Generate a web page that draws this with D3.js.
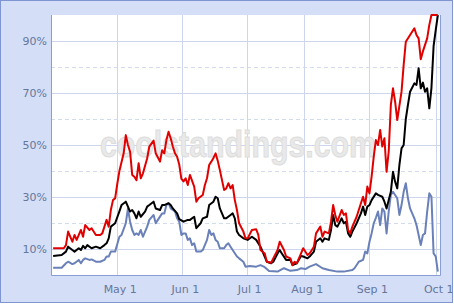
<!DOCTYPE html>
<html>
<head>
<meta charset="utf-8">
<script src="https://cdn.jsdelivr.net/npm/d3@7"></script>
<style>
    html, body { margin: 0; padding: 0; background: #ffffff; }
    svg { display: block; }
    .tick-label { font-family: 'DejaVu Sans', Verdana, sans-serif; font-size: 11px; fill: #66769c; }
    .watermark { font-family: 'Liberation Sans', Arial, sans-serif; font-weight: bold; font-size: 37px; }
</style>
</head>
<body>
<div id="chart"></div>
<script>
/**
 * Playoff odds chart - three series of daily percentages over a season.
 * x is a season-day index (All-Star break days left out), y is percent.
 */

// Axis ticks
const tickDays = [31, 61.5, 91.5, 118.5, 149, 180];
const tickLabels = ['May 1', 'Jun 1', 'Jul 1', 'Aug 1', 'Sep 1', 'Oct 1'];
const yMajorTicks = [10, 30, 50, 70, 90];
const yMinorTicks = [20, 40, 60, 80];

// Red series
const redDays = [1, 6, 7, 8, 10, 11, 12, 14, 15, 16, 18, 19, 21, 23, 24, 25, 26, 27, 28, 29,
    30, 31, 32, 34, 35, 36, 37, 38, 39, 40, 41, 42, 43, 45, 46, 48, 49, 51, 52, 53,
    54, 55, 56, 57, 58, 59, 60, 61, 62, 63, 64, 65, 67, 68, 69, 71, 72, 73, 74, 75,
    76, 77, 78, 79, 80, 81, 82, 83, 84, 85, 86, 87, 88, 90, 91, 92, 94, 96, 97, 98,
    100, 101, 103, 104, 106, 107, 109, 110, 112, 113, 114, 115, 117, 118, 120, 121, 123, 124, 126, 127,
    128, 130, 131, 132, 133, 134, 136, 137, 138, 139, 140, 141, 143, 145, 146, 147, 148, 149, 150, 151,
    152, 153, 154, 155, 156, 157, 158, 159, 160, 161, 162, 164, 165, 166, 168, 170, 171, 172, 173, 174,
    176, 177, 178, 181];
const redPct = [10.3, 10.3, 11.5, 16.7, 12.8, 15.4, 13.5, 17.3, 14.7, 19.2, 17.3, 18, 15.4, 15.4, 16, 18.6, 21.2, 18.6, 25, 28.8,
    29.5, 35, 40, 46.8, 53.8, 50, 47.4, 38.5, 37.8, 36.5, 43, 37.2, 39, 44.9, 49.4, 51.7, 46.8, 43.6, 48, 46.8,
    51.9, 55.1, 52.6, 49.4, 46.8, 45.5, 42.5, 37, 36, 37.2, 34.6, 38.5, 34, 28.2, 29.5, 30.8, 34.6, 37.2, 42.3, 43.6,
    45, 46.8, 44, 40.4, 36.5, 32.7, 33.3, 35.3, 33.3, 34.6, 28.8, 25, 19.9, 16.7, 14.1, 14.1, 17.3, 17.6, 15.4, 9.6,
    8.3, 5.1, 4.7, 6.4, 9.6, 12.8, 9.6, 7.1, 6.4, 3.8, 5.1, 4.5, 8.3, 10.3, 7.7, 8.3, 10.9, 16, 18.6, 14.7,
    16.7, 16, 20.5, 26.9, 23.1, 20.5, 25, 23.1, 23.7, 17.3, 16, 18.6, 22.4, 27.6, 30.1, 26.9, 34, 31.4, 37.8, 45.5,
    51.9, 50, 55.8, 49.4, 52.6, 39.7, 47.4, 65.4, 71.8, 66.7, 59.6, 70.5, 80.8, 89.7, 92.3, 94.9, 92.3, 91, 83, 86,
    91, 96.2, 100, 100];

// Black series
const blackDays = [1, 5, 7, 8, 10, 11, 13, 14, 15, 16, 17, 19, 21, 23, 25, 26, 27, 28, 30, 32,
    33, 35, 37, 38, 39, 40, 41, 42, 44, 45, 46, 48, 49, 51, 52, 53, 55, 56, 57, 59,
    60, 62, 64, 65, 67, 68, 70, 71, 73, 74, 76, 77, 78, 79, 81, 82, 84, 85, 86, 87,
    88, 90, 92, 94, 96, 98, 99, 101, 103, 104, 106, 107, 108, 110, 112, 113, 115, 117, 118, 120,
    121, 123, 124, 126, 127, 128, 130, 131, 132, 133, 134, 136, 137, 138, 139, 140, 141, 143, 145, 146,
    147, 148, 149, 150, 152, 153, 155, 156, 157, 159, 160, 161, 162, 163, 164, 165, 166, 167, 168, 170,
    171, 172, 173, 174, 175, 176, 177, 178, 179, 180, 181];
const blackPct = [7.3, 7.7, 9, 10.9, 9.6, 9, 10.3, 9.6, 11.2, 10.3, 11.5, 10.3, 10.9, 10.3, 11.5, 12.2, 14.1, 18.6, 19.9, 24.5,
    26.9, 28.2, 24.4, 25, 23.7, 21.8, 24.4, 22.4, 24.4, 26.3, 26.9, 28.2, 25.6, 25, 26.9, 26.9, 27.6, 26.9, 25.6, 23.7,
    21.5, 20.5, 21.2, 21.2, 22.4, 18, 19.9, 21.8, 22.4, 26.9, 28.2, 30.1, 29.5, 25.6, 21.8, 21.8, 23.1, 23.7, 21.8, 16.7,
    15.4, 14.1, 13.5, 14.7, 13.5, 10.9, 9, 5.1, 4.5, 5.1, 8.3, 9.6, 8.3, 5.8, 5.8, 3.8, 4.5, 7.3, 7.1, 6.4,
    7.1, 9, 12.8, 14.1, 12.8, 14.1, 13.5, 17.3, 23.1, 19.2, 18.6, 21.8, 19.9, 20.5, 16, 14.7, 16.7, 19.9, 23.7, 26.3,
    23.1, 26.3, 26.9, 28.8, 31.4, 30.8, 30.1, 28.2, 25.6, 32, 39.7, 35.9, 33.3, 42.3, 48.7, 50, 60, 65.4, 70.5, 73.7,
    73.1, 79.5, 71.8, 74, 70.5, 71.8, 64.1, 72, 88, 94.2, 100];

// Blue series
const blueDays = [1, 5, 7, 8, 10, 11, 13, 14, 15, 16, 18, 19, 21, 23, 25, 26, 27, 28, 30, 32,
    33, 35, 36, 37, 38, 39, 40, 41, 42, 43, 45, 46, 48, 49, 50, 52, 53, 54, 55, 56,
    58, 59, 60, 61, 62, 63, 64, 65, 66, 67, 68, 70, 71, 73, 74, 75, 76, 77, 78, 79,
    81, 82, 83, 84, 85, 87, 88, 90, 91, 93, 96, 98, 100, 102, 106, 109, 112, 115, 117, 119,
    121, 124, 127, 130, 134, 137, 141, 142, 144, 146, 147, 148, 149, 150, 151, 152, 153, 154, 155, 156,
    157, 158, 159, 160, 162, 163, 164, 165, 166, 167, 168, 170, 171, 172, 173, 174, 175, 176, 177, 178,
    179, 180, 181];
const bluePct = [2.8, 2.8, 4.5, 5.1, 4.2, 4.5, 5.8, 4.5, 5.8, 6.4, 5.8, 6, 5.1, 5.1, 5.8, 7.1, 7.1, 9, 9, 14.7,
    15.4, 19.9, 25.6, 20.5, 17.3, 15.4, 16, 15.4, 17.3, 14.7, 18.6, 21.2, 23.1, 19.9, 21.2, 23.7, 23.7, 26.9, 27.6, 25.6,
    24.4, 21.8, 20.5, 15.4, 16, 16, 13.5, 14.1, 11.5, 12.2, 9, 9, 9.6, 13.5, 17.3, 15.4, 16, 13.5, 12.8, 10.3,
    10.3, 11.5, 12.2, 10.9, 9.6, 7.1, 6.4, 5.1, 3.2, 3.5, 3.2, 3.8, 3, 1.5, 1.3, 2.6, 1.6, 1.9, 2.6, 2.3,
    3.2, 4.2, 2.6, 1.9, 1.3, 1.3, 1.9, 2.6, 5.1, 5.8, 9, 8.3, 12.8, 16, 19.9, 22, 24.4, 19.2, 25.6, 24.4,
    16, 24.4, 30.8, 32, 29.5, 23.1, 26.9, 32, 35.3, 29.5, 25.6, 21.8, 19.2, 15.4, 11.5, 15.4, 16, 24.4, 31.4, 30.1,
    8.3, 7.1, 1.3];

const seriesList = [
    { name: 'blue', days: blueDays, pct: bluePct, color: '#6a80b8' },
    { name: 'black', days: blackDays, pct: blackPct, color: '#000000' },
    { name: 'red', days: redDays, pct: redPct, color: '#e00000' }
];

/**
 * Render the chart into #chart.
 */
function renderChart() {
    const width = 454;
    const height = 304;
    const plot = { left: 51, right: 440, top: 15, bottom: 275 };

    const svg = d3.select('#chart')
        .append('svg')
        .attr('width', width)
        .attr('height', height);

    // Frame background
    svg.append('rect')
        .attr('x', 0.5).attr('y', 0.5)
        .attr('width', width - 2).attr('height', height - 2)
        .attr('fill', '#d4def6')
        .attr('stroke', '#7f95d2');

    svg.append('rect')
        .attr('x', plot.left).attr('y', plot.top)
        .attr('width', plot.right - plot.left).attr('height', plot.bottom - plot.top)
        .attr('fill', '#ffffff');

    const x = d3.scaleLinear().domain([0, 182]).range([plot.left, plot.right]);
    const y = d3.scaleLinear().domain([0, 100]).range([plot.bottom, plot.top]);

    // Horizontal grid
    svg.append('g')
        .selectAll('line')
        .data(yMinorTicks)
        .join('line')
        .attr('x1', plot.left).attr('x2', plot.right)
        .attr('y1', d => Math.round(y(d)) + 0.5).attr('y2', d => Math.round(y(d)) + 0.5)
        .attr('stroke', '#d3dbee')
        .attr('stroke-dasharray', '4,3');

    svg.append('g')
        .selectAll('line')
        .data(yMajorTicks)
        .join('line')
        .attr('x1', plot.left).attr('x2', plot.right)
        .attr('y1', d => Math.round(y(d)) + 0.5).attr('y2', d => Math.round(y(d)) + 0.5)
        .attr('stroke', '#cdd6ec');

    // Vertical grid
    svg.append('g')
        .selectAll('line')
        .data(tickDays)
        .join('line')
        .attr('x1', d => Math.round(x(d)) + 0.5).attr('x2', d => Math.round(x(d)) + 0.5)
        .attr('y1', plot.top).attr('y2', plot.bottom)
        .attr('stroke', '#cdd6ec');

    // Watermark
    svg.append('text')
        .attr('class', 'watermark')
        .attr('x', 100)
        .attr('y', 157)
        .attr('textLength', 276)
        .attr('lengthAdjust', 'spacingAndGlyphs')
        .attr('fill', '#e9e9e9')
        .attr('stroke', '#dcdcdc')
        .attr('stroke-width', 1)
        .text('coolstandings.com');

    // Lines
    const line = d3.line()
        .x(d => x(d[0]))
        .y(d => y(d[1]));

    svg.append('g')
        .selectAll('path')
        .data(seriesList)
        .join('path')
        .attr('d', s => line(s.days.map((d, i) => [d, s.pct[i]])))
        .attr('fill', 'none')
        .attr('stroke', s => s.color)
        .attr('stroke-width', 2)
        .attr('stroke-linejoin', 'round');

    // Plot border
    svg.append('path')
        .attr('d', `M${plot.left + 0.5},${plot.top}V${plot.bottom + 0.5}H${plot.right + 0.5}V${plot.top}`)
        .attr('fill', 'none')
        .attr('stroke', '#8a9ed6');

    // Y labels
    svg.append('g')
        .selectAll('text')
        .data(yMajorTicks)
        .join('text')
        .attr('class', 'tick-label')
        .attr('x', 47)
        .attr('y', d => y(d) + 4)
        .attr('text-anchor', 'end')
        .text(d => d + '%');

    // X labels
    svg.append('g')
        .selectAll('text')
        .data(tickDays)
        .join('text')
        .attr('class', 'tick-label')
        .attr('x', d => x(d) + 3)
        .attr('y', 293)
        .attr('text-anchor', 'middle')
        .text((d, i) => tickLabels[i]);
}

renderChart();
</script>
</body>
</html>
